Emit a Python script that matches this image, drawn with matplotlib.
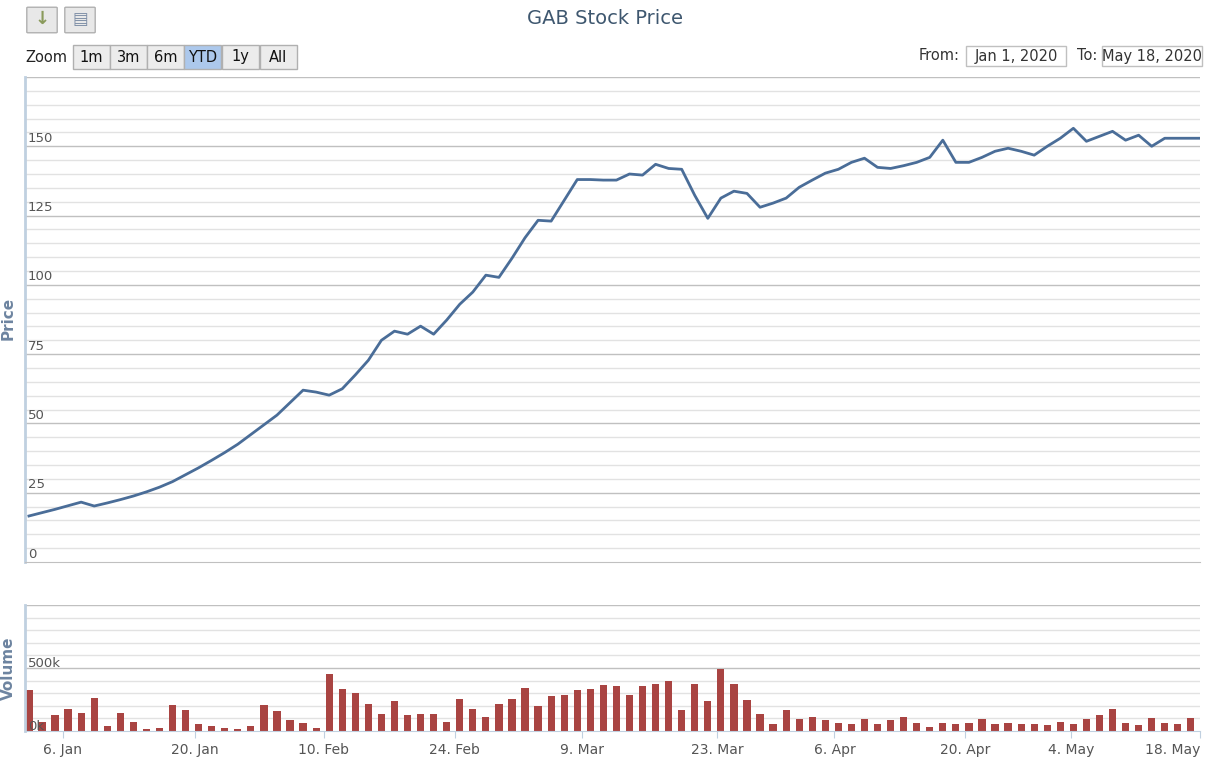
import matplotlib
matplotlib.use("Agg")
import matplotlib.pyplot as plt
from matplotlib.patches import FancyBboxPatch, Rectangle
import numpy as np

price = [16.6, 17.8, 19.0, 20.3, 21.6, 20.2, 21.3, 22.5, 23.8, 25.3,
         27.0, 29.0, 31.5, 34.0, 36.7, 39.5, 42.5, 46.0, 49.5, 53.0,
         57.5, 62.0, 61.3, 60.2, 62.5, 67.5, 72.8, 80.0, 83.3, 82.2,
         85.1, 82.2, 87.3, 93.0, 97.4, 103.5, 102.7, 109.6, 117.0, 123.3,
         123.0, 130.5, 138.0, 138.0, 137.8, 137.8, 140.0, 139.6, 143.5, 142.0,
         141.7, 132.3, 124.0, 131.3, 133.8, 133.0, 128.0, 129.5, 131.3, 135.2,
         137.8, 140.3, 141.7, 144.2, 145.7, 142.4, 142.0, 143.0, 144.2, 146.0,
         152.2, 144.2, 144.2, 146.0, 148.2, 149.3, 148.2, 146.8, 150.0, 152.9,
         156.5, 151.8, 153.6, 155.4, 152.2, 154.0, 150.0, 152.9, 152.9, 152.9, 152.9]
volume_k = [323, 70, 124, 177, 143, 265, 37, 143, 74, 16,
            26, 204, 164, 56, 37, 26, 19, 37, 204, 156,
            85, 66, 26, 455, 333, 304, 214, 135, 235, 124,
            135, 135, 74, 254, 175, 114, 214, 254, 344, 196,
            275, 283, 323, 333, 362, 354, 283, 354, 373, 394,
            164, 373, 235, 492, 373, 243, 135, 56, 164, 95,
            114, 85, 66, 56, 95, 56, 85, 114, 66, 34,
            66, 56, 66, 95, 56, 66, 56, 56, 45, 74,
            56, 95, 124, 175, 66, 45, 106, 66, 56, 106, 106]
tick_idx = [2.6, 12.7, 22.6, 32.6, 42.4, 52.7, 61.7, 71.7, 79.8, 89.7]
tick_labels = ["6. Jan", "20. Jan", "10. Feb", "24. Feb", "9. Mar",
               "23. Mar", "6. Apr", "20. Apr", "4. May", "18. May"]

n = len(price)
x = np.arange(n)
W, H = 1209, 765
fig = plt.figure(figsize=(W/100, H/100), dpi=100)
txtc = "#555555"

def fax(l, t, r, b):
    return fig.add_axes([l/W, 1-b/H, (r-l)/W, (b-t)/H])

ax = fax(25, 77, 1200, 562)
av = fax(25, 605, 1200, 731)
xl = (-0.3, 89.7)

# price panel
ax.plot(x[:len(price)], price, color="#4a6d98", lw=2)
ax.set_xlim(*xl); ax.set_ylim(0, 175)
for v in np.arange(5, 176, 5):
    major = v % 25 == 0
    ax.axhline(v, color="#c0c0c0" if major else "#e2e2e2", lw=1.0, zorder=0)
for v in [0, 25, 50, 75, 100, 125, 150]:
    ax.annotate(str(v), (0, v), xycoords=("axes fraction", "data"),
                xytext=(2, 1), textcoords="offset points", fontsize=9.5, color=txtc,
                va="bottom", ha="left")
ax.set_xticks([]); ax.set_yticks([])
for s in ["top", "right"]:
    ax.spines[s].set_visible(False)
ax.spines["left"].set_color("#c0d0e0"); ax.spines["left"].set_linewidth(2)
ax.spines["bottom"].set_color("#c0c0c0")
fig.text(8/W, 1-318/H, "Price", rotation=90, ha="center", va="center",
         fontsize=11, fontweight="bold", color="#6d84a0")

# volume panel
av.bar(x[:len(volume_k)], volume_k, width=0.55, color="#a94442")
av.set_xlim(*xl); av.set_ylim(0, 1000)
for v in np.arange(100, 1001, 100):
    av.axhline(v, color="#c0c0c0" if v % 500 == 0 else "#e2e2e2", lw=1.0, zorder=0)
for v, lab in [(0, "0k"), (500, "500k")]:
    av.annotate(lab, (0, v), xycoords=("axes fraction", "data"),
                xytext=(2, 1), textcoords="offset points", fontsize=9.5, color=txtc)
av.set_yticks([])
av.set_xticks(tick_idx)
labs = av.set_xticklabels(tick_labels, fontsize=10, color=txtc)
labs[-1].set_horizontalalignment("right")
labs[-1].set_x(tick_idx[-1])
av.tick_params(axis="x", length=5, color="#c0d0e0")
for s in ["top", "right"]:
    av.spines[s].set_visible(False)
av.spines["left"].set_color("#c0d0e0"); av.spines["left"].set_linewidth(2)
av.spines["bottom"].set_color("#c0d0e0")
fig.text(8/W, 1-668/H, "Volume", rotation=90, ha="center", va="center",
         fontsize=11, fontweight="bold", color="#6d84a0")

# title and controls
fig.text(605/W, 1-18/H, "GAB Stock Price", ha="center", va="center",
         fontsize=14, color="#3e576f")
def box(l, t, w, h, fc, ec="#b0b0b0"):
    fig.patches.append(FancyBboxPatch((l/W, 1-(t+h)/H), w/W, h/H,
                       boxstyle="round,pad=0.001", transform=fig.transFigure,
                       fc=fc, ec=ec, lw=1))
box(28, 8, 28, 24, "#e8e8e8")
box(66, 8, 28, 24, "#e8e8e8")
fig.text(42/W, 1-19/H, "↓", ha="center", va="center", fontsize=13,
         fontweight="bold", color="#8a9a5b")
fig.text(80/W, 1-19/H, "▤", ha="center", va="center", fontsize=12, color="#8090a8")
fig.text(25/W, 1-58/H, "Zoom", ha="left", va="center", fontsize=10.5, color="#222222")
btns = ["1m", "3m", "6m", "YTD", "1y", "All"]
bx = [73, 110, 147, 184, 222, 260]
for b, l in zip(btns, bx):
    fig.patches.append(Rectangle((l/W, 1-69/H), 37/W, 24/H, transform=fig.transFigure,
                       fc="#acc8ec" if b == "YTD" else "#ececec", ec="#b0b0b0", lw=1))
    fig.text((l+18.5)/W, 1-57/H, b, ha="center", va="center", fontsize=10.5, color="#111111")
fig.text(960/W, 1-56/H, "From:", ha="right", va="center", fontsize=10.5, color="#333333")
fig.patches.append(Rectangle((966/W, 1-66/H), 100/W, 20/H, transform=fig.transFigure,
                   fc="white", ec="#c0c0c0", lw=1))
fig.text(1016/W, 1-56/H, "Jan 1, 2020", ha="center", va="center", fontsize=10.5, color="#333333")
fig.text(1097/W, 1-56/H, "To:", ha="right", va="center", fontsize=10.5, color="#333333")
fig.patches.append(Rectangle((1102/W, 1-66/H), 100/W, 20/H, transform=fig.transFigure,
                   fc="white", ec="#c0c0c0", lw=1))
fig.text(1152/W, 1-56/H, "May 18, 2020", ha="center", va="center", fontsize=10.5, color="#333333")

fig.savefig("out.png", dpi=100)
